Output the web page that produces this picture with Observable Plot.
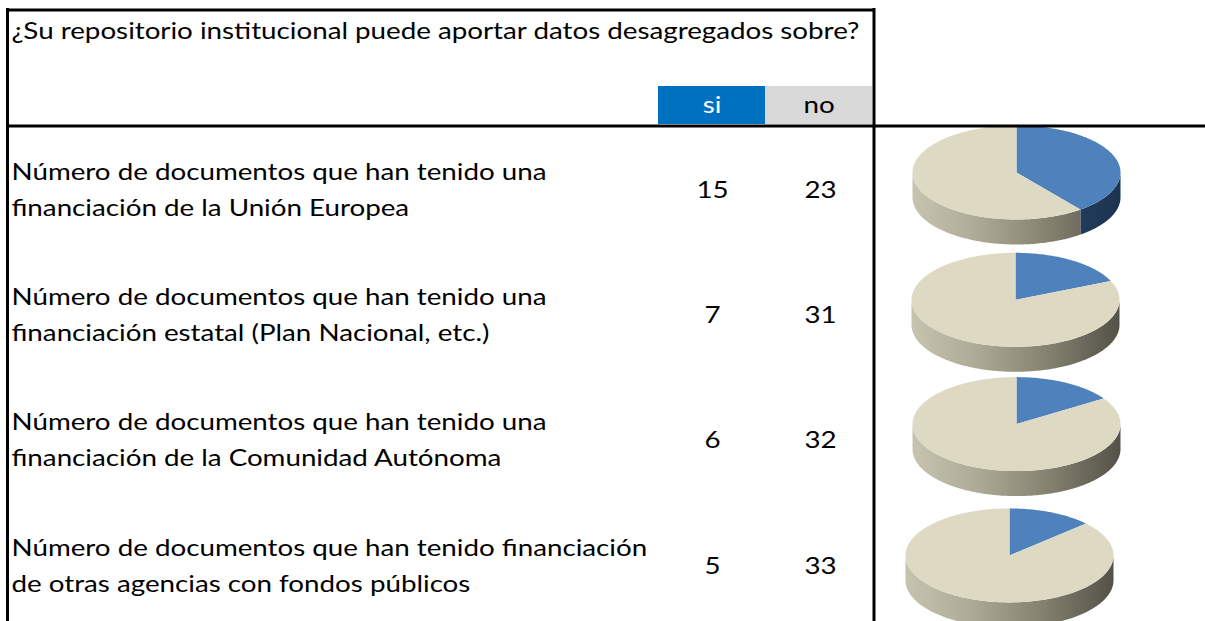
<!DOCTYPE html>
<html><head><meta charset="utf-8">
<script src="https://cdn.jsdelivr.net/npm/d3@7"></script>
<script src="https://cdn.jsdelivr.net/npm/@observablehq/plot@0.6"></script>
<style>body{margin:0;background:#fff;overflow:hidden}</style>
</head><body><div id="chart"></div>
<script>
// ---- data ----
const title = "¿Su repositorio institucional puede aportar datos desagregados sobre?";
const answers = ["si", "no"];
const labelLine1 = [
  "Número de documentos que han tenido una",
  "Número de documentos que han tenido una",
  "Número de documentos que han tenido una",
  "Número de documentos que han tenido financiación"
];
const labelLine2 = [
  "financiación de la Unión Europea",
  "financiación estatal (Plan Nacional, etc.)",
  "financiación de la Comunidad Autónoma",
  "de otras agencias con fondos públicos"
];
const siValues = [15, 7, 6, 5];
const noValues = [23, 31, 32, 33];

// ---- layout ----
const W = 1205, H = 621;
const FONT = "Lato";
const FS = 23;
const TITLE_WIDTH = 848;   // rendered width of the title line, px
const rowY = i => 190 + i * 125.3;
const colX = {si: 712, no: 820};
const pieCx = [1016, 1015, 1016, 1009];
const pieDy = [-18, -16, -17, -11];
const pie = {rx: 104, ry: 47, depth: 25};
const colors = {si: "#4F81BD", no: "#DDD9C3"};

const rows = siValues.map((s, i) => ({i, si: s, no: noValues[i], l1: labelLine1[i], l2: labelLine2[i]}));

// pie geometry computed from values via d3.pie
const piePolys = [];
rows.forEach(r => {
  const cy = rowY(r.i) + pieDy[r.i], cx = pieCx[r.i];
  const arcs = d3.pie().sort(null).value(d => d.v)([{k: "si", v: r.si}, {k: "no", v: r.no}]);
  const pt = (t, dd = 0) => ({x: cx + pie.rx * Math.sin(t), y: cy - pie.ry * Math.cos(t) + dd});
  const arcPts = (a0, a1, dd = 0) => {
    const n = Math.max(2, Math.ceil((a1 - a0) / 0.02));
    return d3.range(n + 1).map(j => pt(a0 + (a1 - a0) * j / n, dd));
  };
  arcs.forEach(a => {
    const s0 = Math.max(a.startAngle, Math.PI / 2), s1 = Math.min(a.endAngle, 3 * Math.PI / 2);
    if (s1 > s0) {
      const top = arcPts(s0, s1), bot = arcPts(s0, s1, pie.depth).reverse();
      const key = `side-${r.i}-${a.data.k}`;
      [...top, ...bot].forEach(p => piePolys.push({...p, key, fill: a.data.k === "si" ? `url(#gBlue${r.i})` : `url(#gTan${r.i})`}));
    }
  });
  arcs.forEach(a => {
    const key = `top-${r.i}-${a.data.k}`;
    const pts = [{x: cx, y: cy}, ...arcPts(a.startAngle, a.endAngle)];
    pts.forEach(p => piePolys.push({...p, key, fill: colors[a.data.k]}));
  });
});

const defs = () => {
  const d = d3.create("svg:defs");
  pieCx.forEach((cx, i) => {
    const g1 = d.append("linearGradient").attr("id", "gTan" + i).attr("gradientUnits", "userSpaceOnUse")
      .attr("x1", cx - pie.rx).attr("x2", cx + pie.rx).attr("y1", 0).attr("y2", 0);
    [[0, "#c6c3ae"], [0.3, "#aeab97"], [0.65, "#858270"], [1, "#545248"]].forEach(([o, c]) => g1.append("stop").attr("offset", o).attr("stop-color", c));
    const g2 = d.append("linearGradient").attr("id", "gBlue" + i).attr("gradientUnits", "userSpaceOnUse")
      .attr("x1", cx - pie.rx).attr("x2", cx + pie.rx).attr("y1", 0).attr("y2", 0);
    [[0, "#3d5f88"], [1, "#1c3350"]].forEach(([o, c]) => g2.append("stop").attr("offset", o).attr("stop-color", c));
  });
  return d.node();
};

const headerCells = answers.map((a, i) => ({a, x1: 658 + i * 107, x2: 765 + i * 107}));
const numbers = rows.flatMap(r => answers.map(a => ({a, y: rowY(r.i), v: r[a]})));
const labels = rows.flatMap(r => [{y: rowY(r.i) - 18, t: r.l1}, {y: rowY(r.i) + 18, t: r.l2}]);

const chart = Plot.plot({
  width: W, height: H,
  margin: 0,
  x: {domain: [0, W], range: [0, W], axis: null},
  y: {domain: [0, H], range: [0, H], axis: null},
  color: {type: "identity"},
  style: {fontFamily: FONT, background: "#fff"},
  marks: [
    defs,
    Plot.rect(headerCells, {x1: "x1", x2: "x2", y1: 86, y2: 124, fill: d => d.a === "si" ? "#0070C0" : "#D9D9D9"}),
    Plot.text(headerCells, {x: d => (d.x1 + d.x2) / 2, y: 105, text: "a", fill: d => d.a === "si" ? "#ffffff" : "#000000", fontSize: FS}),
    Plot.text([title], {x: 11, y: 31, text: d => d, textAnchor: "start", fontSize: FS, fill: "#000", className: "ttl"}),
    Plot.text(labels, {x: 11, y: "y", text: "t", textAnchor: "start", fontSize: FS, fill: "#000"}),
    Plot.text(numbers, {x: d => colX[d.a], y: "y", text: d => String(d.v), fontSize: FS, fill: "#000"}),
    Plot.line(piePolys, {x: "x", y: "y", z: "key", fill: "fill", stroke: "none", sort: null}),
    Plot.ruleY([9.5], {x1: 6, x2: 874, stroke: "#000", strokeWidth: 3}),
    Plot.ruleY([125.5], {x1: 6, x2: W, stroke: "#000", strokeWidth: 3}),
    Plot.ruleX([7], {y1: 8, y2: H, stroke: "#000", strokeWidth: 3}),
    Plot.ruleX([873.5], {y1: 8, y2: H, stroke: "#000", strokeWidth: 3})
  ]
});
document.getElementById("chart").append(chart);

// widen the text uniformly so that it matches the wide spreadsheet font
const titleNode = chart.querySelector(".ttl text");
const k = titleNode ? TITLE_WIDTH / titleNode.getComputedTextLength() : 1;
chart.querySelectorAll("text").forEach(t => {
  const w = t.getComputedTextLength();
  if (w > 0) { t.setAttribute("textLength", w * k); t.setAttribute("lengthAdjust", "spacingAndGlyphs"); }
});
</script>
</body></html>
